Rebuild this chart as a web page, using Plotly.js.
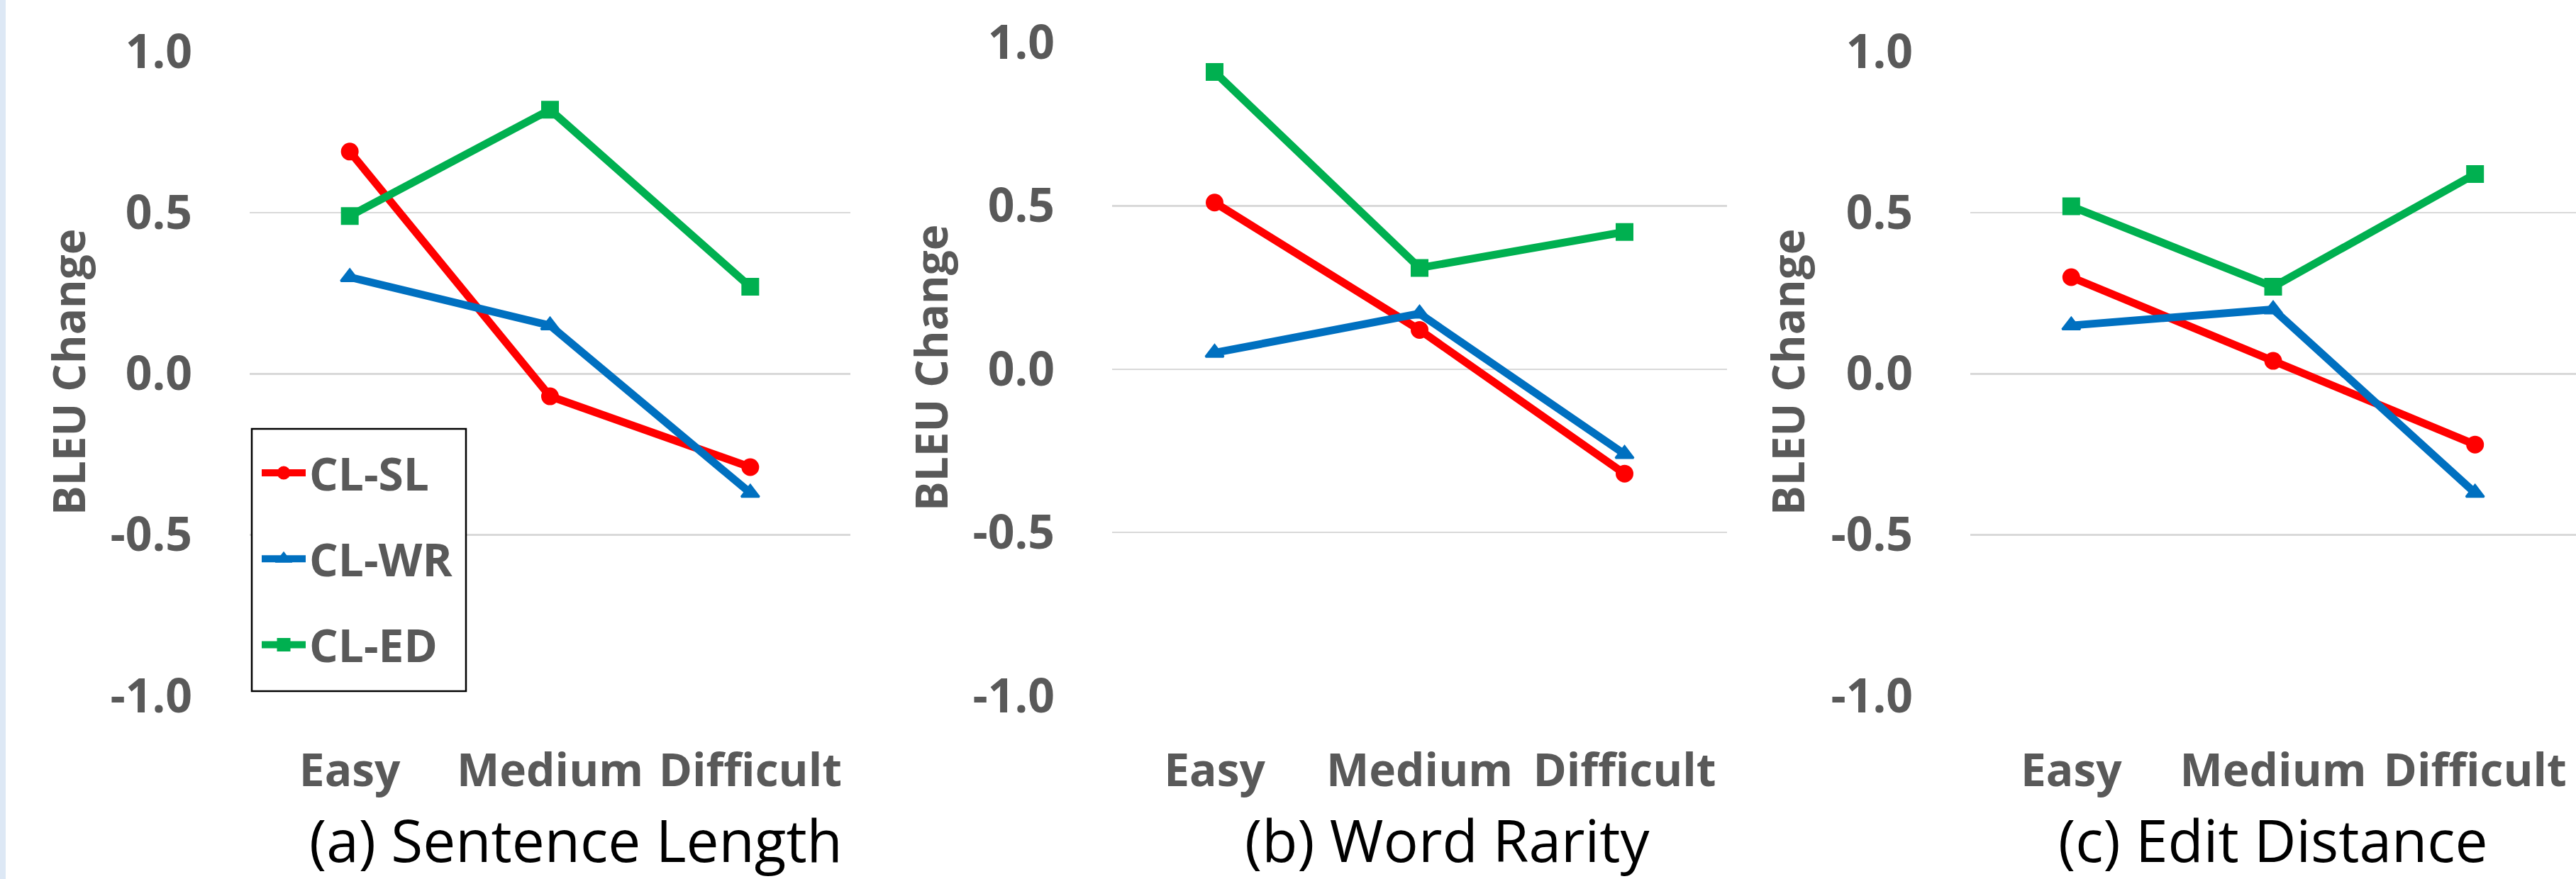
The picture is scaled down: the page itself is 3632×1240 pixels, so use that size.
<!DOCTYPE html>
<html>
<head>
<meta charset="utf-8">
<script src="https://cdn.plot.ly/plotly-3.0.1.min.js"></script>
<style>
  html, body { margin: 0; padding: 0; background: #ffffff; }
  #chart { width: 3632px; height: 1240px; }
</style>
</head>
<body>
<div id="chart"></div>
<script>
// ---- data ----
const categories = ['Easy', 'Medium', 'Difficult'];
const seriesNames = ['CL-SL', 'CL-WR', 'CL-ED'];
const panelTitles = ['(a) Sentence Length', '(b) Word Rarity', '(c) Edit Distance'];
const yAxisTitle = 'BLEU Change';
const yTickVals = [-1.0, -0.5, 0.0, 0.5, 1.0];
const yTickText = ['-1.0', '-0.5', '0.0', '0.5', '1.0'];

// (a) Sentence Length
const slSentenceLength = [0.69, -0.07, -0.29];
const wrSentenceLength = [0.30, 0.15, -0.37];
const edSentenceLength = [0.49, 0.82, 0.27];
// (b) Word Rarity
const slWordRarity = [0.51, 0.12, -0.32];
const wrWordRarity = [0.05, 0.17, -0.26];
const edWordRarity = [0.91, 0.31, 0.42];
// (c) Edit Distance
const slEditDistance = [0.30, 0.04, -0.22];
const wrEditDistance = [0.15, 0.20, -0.37];
const edEditDistance = [0.52, 0.27, 0.62];

// ---- styling ----
const W = 3632, H = 1240;
const colors = ['#FF0000', '#0070C0', '#00B050'];
const symbols = ['circle', 'triangle-up', 'square'];
const tickColor = '#595959';
const FONT = '"Open Sans", "Noto Sans", "DejaVu Sans", sans-serif';

const panels = [
  [slSentenceLength, wrSentenceLength, edSentenceLength],
  [slWordRarity, wrWordRarity, edWordRarity],
  [slEditDistance, wrEditDistance, edEditDistance]
];

// pixel geometry of each plot area (left, right, top, bottom)
const boxes = [
  {l: 352, r: 1199, t: 73, b: 981.5, titleX: 812, yTitleX: 96, yTitleY: 525},
  {l: 1568, r: 2435, t: 60, b: 981.5, titleX: 2040, yTitleX: 1312, yTitleY: 519},
  {l: 2778, r: 3632, t: 73, b: 981.5, titleX: 3205, yTitleX: 2520, yTitleY: 525}
];

const px = v => v / W;
const py = v => 1 - v / H;

const traces = [];
panels.forEach((vals, p) => {
  const sfx = p === 0 ? '' : String(p + 1);
  vals.forEach((yv, s) => {
    traces.push({
      type: 'scatter',
      mode: 'lines+markers',
      name: seriesNames[s],
      legendgroup: seriesNames[s],
      showlegend: p === 0,
      x: categories,
      y: yv,
      xaxis: 'x' + sfx,
      yaxis: 'y' + sfx,
      line: {color: colors[s], width: 11},
      marker: {symbol: symbols[s], size: 22, color: colors[s], line: {color: colors[s], width: 3}},
      cliponaxis: false
    });
  });
});

const layout = {
  width: W, height: H,
  margin: {l: 0, r: 0, t: 0, b: 0, pad: 0},
  paper_bgcolor: '#ffffff',
  plot_bgcolor: '#ffffff',
  font: {family: FONT, color: tickColor},
  showlegend: true,
  legend: {
    x: px(364), y: py(619), xanchor: 'left', yanchor: 'top',
    bgcolor: 'rgba(255,255,255,0)', borderwidth: 0,
    font: {family: FONT, size: 64, color: tickColor, weight: 700},
    traceorder: 'grouped', tracegroupgap: 35, itemwidth: 62
  },
  annotations: [],
  shapes: [
    // light blue strip on the left edge
    {type: 'rect', xref: 'paper', yref: 'paper', x0: 0, x1: px(8), y0: 0, y1: 1,
     fillcolor: '#DDE8F5', line: {width: 0}, layer: 'above'},
    // legend frame
    {type: 'rect', xref: 'paper', yref: 'paper', x0: px(355), x1: px(657), y0: py(975), y1: py(605),
     fillcolor: '#ffffff', line: {color: '#000000', width: 2.5}, layer: 'above'}
  ]
};

boxes.forEach((bx, p) => {
  const sfx = p === 0 ? '' : String(p + 1);
  layout['xaxis' + sfx] = {
    domain: [px(bx.l), Math.min(1, px(bx.r))],
    anchor: 'y' + sfx,
    type: 'category',
    categoryorder: 'array', categoryarray: categories,
    range: [-0.5, 2.5],
    showgrid: false, zeroline: false, showline: false,
    ticks: '', ticklabelstandoff: 62,
    tickfont: {family: FONT, size: 64, color: tickColor, weight: 700},
    fixedrange: true
  };
  layout['yaxis' + sfx] = {
    domain: [py(bx.b), py(bx.t)],
    anchor: 'x' + sfx,
    range: [-1, 1],
    tickmode: 'array', tickvals: yTickVals, ticktext: yTickText,
    showgrid: true, gridcolor: '#D9D9D9', gridwidth: 2.5,
    zeroline: false, showline: false,
    ticks: '', ticklabelstandoff: 80,
    tickfont: {family: FONT, size: 66, color: tickColor, weight: 700},
    fixedrange: true
  };
  layout.annotations.push({
    text: panelTitles[p], xref: 'paper', yref: 'paper',
    x: px(bx.titleX), y: py(1184), xanchor: 'center', yanchor: 'middle',
    showarrow: false, font: {family: FONT, size: 82, color: '#000000'}
  });
  layout.annotations.push({
    text: yAxisTitle, xref: 'paper', yref: 'paper',
    x: px(bx.yTitleX), y: py(bx.yTitleY), xanchor: 'center', yanchor: 'middle',
    textangle: -90, showarrow: false,
    font: {family: FONT, size: 62, color: tickColor, weight: 700}
  });
});

Plotly.newPlot('chart', traces, layout, {staticPlot: true, displayModeBar: false});
</script>
</body>
</html>
